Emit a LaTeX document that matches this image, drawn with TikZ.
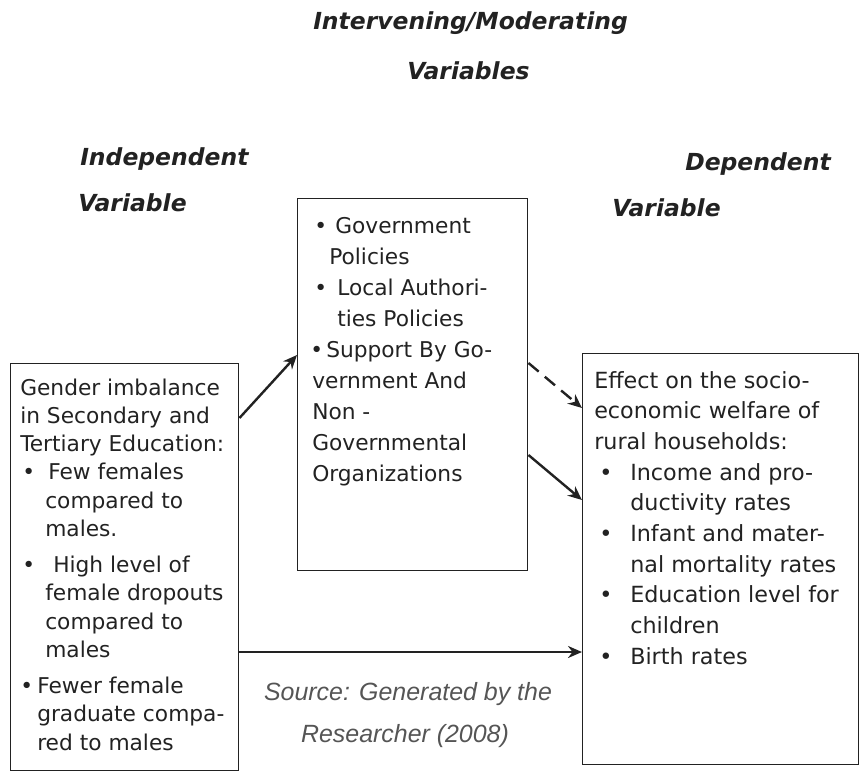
\documentclass[tikz,border=0pt]{standalone}
\usepackage{fontspec}
\setmainfont{DejaVu Sans}
\newfontfamily\srcfont{Liberation Sans}
\usetikzlibrary{arrows.meta}

% one unit of the drawing grid
\newlength\pxu
\setlength\pxu{0.75pt}
% bullet placed at a horizontal offset, without taking space
\newcommand\bul[1]{\leavevmode\rlap{\hspace*{#1\pxu}\textbullet}}
% horizontal indent of a line
\newcommand\ind[1]{\leavevmode\hspace*{#1\pxu}}

\definecolor{ink}{HTML}{222222}
\definecolor{srcgray}{HTML}{555555}

\tikzset{
  box/.style={draw=ink, line width=1.1pt, inner sep=0pt, anchor=north west},
  boxtext/.style={inner sep=0pt, anchor=base west, text=ink},
  head/.style={inner sep=0pt, anchor=base west, text=ink,
    font=\fontsize{17.6}{20}\selectfont\bfseries\itshape},
  src/.style={inner sep=0pt, anchor=base, text=srcgray,
    font=\srcfont\fontsize{18.7}{22}\selectfont\itshape},
  link/.style={draw=ink, line width=1.8pt, -{Stealth[length=10.5pt,width=9pt]}},
  dashlink/.style={link, dash pattern=on 10pt off 6pt}
}

\begin{document}
\begin{tikzpicture}[x=0.75pt, y=-0.75pt]
\useasboundingbox (0,0) rectangle (864,772);

% headings
\node[head] (h1) at (313,29) {Intervening/Moderating};
\node[head] (h2) at (407,79) {Variables};
\node[head] (h3) at (80,165) {Independent};
\node[head] (h4) at (78,211) {Variable};
\node[head] (h5) at (685,170) {Dependent};
\node[head] (h6) at (612,216) {Variable};

% frames
\node[box, minimum width=171pt, minimum height=305pt] (L) at (10,363) {};
\node[box, minimum width=172.5pt, minimum height=279pt] (M) at (297,198) {};
\node[box, minimum width=207pt, minimum height=308pt] (R) at (582,353) {};

% independent variable
\node[boxtext] (Lt) at (20,395) {\parbox[t]{225\pxu}{%
  \fontsize{16.3}{21.2}\selectfont\raggedright
  Gender imbalance\\
  in Secondary and\\
  Tertiary Education:\\
  \bul{2}\ind{28}Few females\\
  \ind{25}compared to\\
  \ind{25}males.\\[6pt]
  \bul{2}\ind{33}High level of\\
  \ind{25}female dropouts\\
  \ind{25}compared to\\
  \ind{25}males\\[6pt]
  \bul{0}\ind{17}Fewer female\\
  \ind{17}graduate compa-\\
  \ind{17}red to males}};

% intervening variables
\node[boxtext] (Mt) at (310,233) {\parbox[t]{222\pxu}{%
  \fontsize{16.3}{23.3}\selectfont\raggedright
  \bul{4}\ind{25}Government\\
  \ind{19}Policies\\
  \bul{4}\ind{27}Local Authori-\\
  \ind{27}ties Policies\\
  \bul{0}\ind{16}Support By Go-\\
  \ind{2}vernment And\\
  \ind{2}Non -\\
  \ind{2}Governmental\\
  \ind{2}Organizations}};

% dependent variable
\node[boxtext] (Rt) at (594,388) {\parbox[t]{270\pxu}{%
  \fontsize{16.7}{23.0}\selectfont\raggedright
  Effect on the socio-\\
  economic welfare of\\
  rural households:\\
  \bul{5}\ind{36}Income and pro-\\
  \ind{36}ductivity rates\\
  \bul{5}\ind{36}Infant and mater-\\
  \ind{36}nal mortality rates\\
  \bul{5}\ind{36}Education level for\\
  \ind{36}children\\
  \bul{5}\ind{36}Birth rates}};

% source note
\node[src] (s1) at (408,700) {Source: Generated by the};
\node[src] (s2) at (405,742) {Researcher (2008)};

% connectors
\draw[link] (L.east |- 0,418) -- (M.west |- 0,355);
\draw[dashlink] (M.east |- 0,363) -- (R.west |- 0,408);
\draw[link] (M.east |- 0,455) -- (R.west |- 0,500);
\draw[link] (L.east |- 0,652) -- (R.west |- 0,652);
\end{tikzpicture}
\end{document}
